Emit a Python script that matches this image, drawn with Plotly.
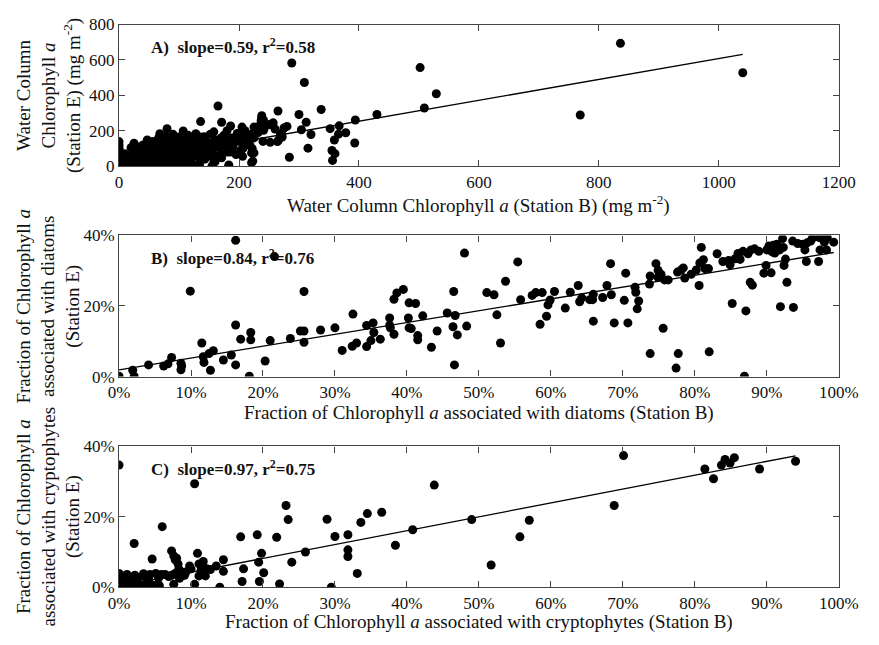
import plotly.graph_objects as go

# ---------------- Panel A: water-column chlorophyll a (mg m^-2) ----------------
a_x = [0, 0, 0, 0, 0, 0, 0, 0, 0, 0, 3, 2,
       5, 8, 10, 12, 14, 15, 18, 20, 22, 24, 25, 25, 27, 28, 30, 30,
       32, 33, 35, 36, 38, 40, 40, 42, 44, 45, 46, 47, 48, 50, 50, 52, 53, 55, 56, 58, 58, 60, 60,
       62, 63, 64, 65, 66, 68, 68, 70, 70, 72, 73, 74, 75, 76, 78, 78, 80, 80, 82, 83, 85, 85, 87,
       88, 90, 90, 92, 93, 95, 95, 97, 98, 100, 100,
       102, 103, 104, 105, 107, 108, 109, 110, 112, 113, 115, 116, 117, 118, 120, 122, 122, 124,
       125, 126, 128, 130, 130, 132, 134, 134, 136, 136, 138, 140, 142, 143, 145, 147, 148, 150,
       152, 155, 155, 156, 158, 158,
       160, 162, 165, 166, 166, 168, 170, 171, 171, 172, 175, 176, 178, 180, 183, 183, 183, 185,
       186, 188, 189, 190, 195, 197, 200, 200, 203, 205, 206, 207, 209, 210, 212, 215, 218, 219,
       221, 221, 222, 223, 225, 225, 225, 225,
       232, 235, 237, 238, 238, 240, 241, 241, 245, 249, 252, 254, 257, 260, 264, 265, 266, 269,
       271, 272, 275, 280, 284, 288, 300, 304, 309, 312, 315, 320, 337, 352, 355, 356, 359, 360,
       366, 367, 378, 393, 394, 430,
       502, 509, 529, 769, 836, 1040,
       15, 35, 55, 75, 95, 115, 135, 20, 45, 65, 85, 105, 125, 145, 165, 185, 205,
       30, 60, 90, 120, 150, 180, 210, 10, 40, 70, 100, 130, 160, 190]
a_y = [0, 10, 25, 47, 62, 75, 90, 102, 120, 139, 5, 30,
       0, 12, 3, 20, 35, 0, 10, 50, 28, 5, 70, 130, 45, 15, 90, 0,
       60, 30, 110, 8, 75, 45, 120, 20, 95, 0, 60, 148, 130, 35, 85, 10, 110, 55, 140, 25, 75, 0, 100,
       45, 125, 15, 80, 160, 184, 35, 100, 0, 60, 140, 20, 115, 85, 40, 170, 212, 5, 130, 70, 155, 25, 95,
       50, 180, 10, 120, 75, 145, 35, 100, 0, 60, 165,
       130, 20, 0, 85, 199, 45, 7, 150, 110, 60, 175, 35, 7, 130, 90, 160, 50, 7,
       115, 70, 184, 0, 140, 95, 7, 55, 252, 165, 120, 80, 166, 40, 140, 100, 60, 102,
       180, 2, 130, 75, 194, 35,
       150, 110, 340, 120, 60, 56, 160, 248, 48, 90, 175, 130, 100, 200, 142, 7, 0, 80,
       227, 160, 124, 110, 66, 185, 166, 140, 90, 221, 56, 102, 166, 200, 130, 150, 120, 179,
       75, 20, 100, 29, 221, 160, 166, 75,
       190, 230, 258, 276, 285, 140, 203, 258, 230, 234, 135, 239, 245, 210, 139, 312, 148, 184,
       184, 165, 216, 225, 51, 583, 292, 206, 473, 248, 102, 179, 320, 212, 89, 33, 148, 71,
       181, 228, 189, 131, 261, 292,
       557, 329, 409, 289, 694, 528,
       60, 85, 30, 125, 85, 100, 30, 105, 5, 55, 135, 115, 155, 120, 140, 120, 185,
       40, 45, 40, 45, 80, 80, 150, 70, 15, 150, 25, 170, 25, 150]

# ---------------- Panel B: fraction associated with diatoms (%) ----------------
b_x = [0, 1.9, 2.1, 4.1, 6.2, 6.8, 7.3, 8.6, 8.6, 8.7, 9.9, 11.5, 11.7, 11.8, 12.5, 12.7, 13.1,
       14.5, 15.6, 16.2, 16.2, 16.2, 16.9, 18.3, 18.3, 18.1, 20.3, 21.0, 21.6, 23.8, 25.2, 25.7,
       25.7, 25.7, 28.0, 30.0, 31.0, 32.4, 33.0, 32.5, 34.4, 34.4, 35.3, 35.4, 35.0, 36.3, 37.6,
       37.6, 37.7, 38.2, 38.2, 38.6, 39.5, 40.3, 41.2, 40.2, 40.3, 40.6, 41.5, 41.5, 42.2, 43.4,
       44.2, 45.6, 46.4, 46.7, 47.0, 46.5, 46.6, 48.0, 48.3, 51.1, 52.1, 52.5, 53.0, 53.7, 55.4,
       55.8, 57.4, 57.9, 58.8, 58.5, 59.4, 59.6, 59.9, 60.5, 62.0, 62.7, 63.8, 64.0, 64.3, 65.4,
       65.8, 65.9, 65.9, 67.2, 67.8, 68.3, 68.4, 68.8, 70.2, 70.4, 70.7, 71.7, 71.8, 72.2, 72.0,
       73.8, 73.7, 73.8, 74.6, 74.9, 75.3, 75.8, 74.9, 75.6, 76.3, 77.4, 77.7, 77.6, 78.1, 78.4,
       78.6, 79.5, 80.2, 80.6, 80.7, 81.2, 81.4, 80.9, 82.0, 81.9, 83.1, 83.9, 84.7, 84.9, 85.2,
       85.6, 86.3, 86.0, 86.7, 87.4, 87.8, 88.3, 88.9, 86.9, 87.1, 87.7, 88.0, 89.6, 90.6, 89.9,
       90.0, 90.3, 90.9, 91.4, 90.7, 91.8, 91.1, 91.9, 92.2, 92.4, 92.6, 92.3, 92.8, 93.6, 94.3,
       95.0, 95.6, 96.1, 93.7, 95.3, 95.5, 96.3, 97.3, 98.0, 98.4, 99.3, 97.2, 97.4, 98.3]
b_y = [0.1, 1.8, 0, 3.3, 3.0, 3.6, 5.4, 3.8, 1.9, 3.0, 24.2, 9.5, 5.6, 4.0, 6.5, 1.8, 7.3,
       4.7, 6.1, 3.3, 14.6, 38.6, 10.6, 12.5, 10.4, 0.1, 4.4, 10.2, 34.0, 10.8, 12.9, 12.9,
       9.7, 24.1, 13.2, 13.8, 7.4, 8.6, 9.5, 17.7, 8.5, 14.5, 15.2, 12.5, 10.2, 10.6, 16.6,
       14.5, 13.8, 12.0, 21.9, 23.7, 24.7, 20.9, 20.7, 16.6, 13.8, 13.6, 11.6, 10.4, 17.2, 8.3,
       12.9, 18.0, 14.1, 17.3, 11.8, 24.1, 3.3, 35.0, 14.3, 23.8, 23.2, 17.5, 9.5, 27.0, 32.5,
       21.8, 23.0, 23.8, 23.8, 14.8, 17.1, 20.3, 21.7, 24.1, 19.4, 23.9, 25.8, 21.2, 22.3, 21.8,
       21.8, 23.3, 15.7, 22.4, 25.8, 32.0, 23.2, 15.2, 21.6, 29.3, 15.2, 25.3, 23.9, 21.4, 19.2,
       28.5, 26.2, 6.5, 32.0, 30.1, 29.0, 27.4, 28.1, 13.7, 27.4, 2.4, 6.5, 29.6, 30.2, 30.8,
       27.9, 29.0, 30.2, 25.8, 32.2, 33.1, 30.6, 36.6, 7.0, 30.6, 34.8, 32.6, 32.9, 31.7, 20.7,
       33.4, 33.2, 34.9, 35.5, 34.8, 35.9, 36.2, 35.5, 0.1, 18.6, 26.7, 25.9, 29.3, 29.4, 31.5,
       35.9, 37.0, 37.2, 37.5, 35.4, 35.9, 35.0, 19.8, 39.1, 31.5, 33.3, 36.6, 26.7, 38.4, 37.7,
       37.5, 37.9, 38.4, 19.6, 35.9, 32.6, 39.1, 39.4, 38.1, 39.4, 38.1, 32.6, 35.9, 35.9]

# ---------------- Panel C: fraction associated with cryptophytes (%) ----------------
c_x = [0, 10.5, 6.0, 2.1, 4.6,
       0, 1.1, 2.2, 3.4, 4.3, 5.1, 5.9, 6.4,
       0.2, 0.6, 1.3, 2.0, 2.6, 3.3, 4.0, 4.6, 5.3, 5.6,
       0, 0.7, 1.5, 2.7, 3.7, 4.1, 5.5, 6.9, 0.1, 0.4, 1.0, 1.8,
       7.3, 7.6, 7.8, 8.0, 8.2, 8.3, 8.5, 8.4, 7.3, 7.6, 7.8, 8.7, 9.1, 9.8, 8.9, 9.3, 10.0,
       10.5, 10.9, 11.1, 11.4, 11.7, 11.7, 11.1, 12.0, 11.8, 12.2, 12.7, 13.5, 14.0,
       14.5, 14.5, 16.9, 17.3, 17.1, 19.2, 19.4, 19.5, 19.8, 20.1, 21.9, 22.3, 23.2, 23.5,
       24.0, 25.9, 28.9, 29.5, 30.0, 31.8, 31.8, 31.8, 33.1, 33.6, 34.5, 36.5, 38.4, 40.8,
       43.8, 49.0, 51.7, 55.7, 57.0, 68.8, 70.1, 81.4, 82.6, 83.7, 84.2, 84.9, 85.5, 89.0, 94.0]
c_y = [34.7, 29.4, 17.2, 12.4, 8.0,
       3.9, 3.6, 3.4, 3.8, 3.6, 3.9, 3.6, 3.6,
       1.6, 0.5, 1.1, 0.6, 1.1, 0.6, 1.1, 0.6, 0.8, 0.4,
       2.5, 2.9, 2.2, 2.7, 2.9, 2.2, 2.6, 3.0, 0.2, 1.8, 0.3, 1.4,
       10.3, 8.9, 7.8, 8.2, 6.6, 5.2, 3.4, 2.5, 3.4, 0.8, 3.9, 4.3, 3.4, 6.0, 3.4, 4.3, 5.2,
       0.8, 9.6, 6.6, 4.8, 7.3, 5.4, 3.2, 3.2, 4.3, 5.2, 5.0, 6.0, 0,
       7.8, 4.5, 14.3, 5.2, 1.6, 14.9, 7.1, 1.6, 9.6, 4.1, 14.2, 0.9, 23.2, 19.2,
       7.1, 10.0, 19.3, 0, 14.4, 14.9, 10.6, 8.7, 3.9, 18.4, 20.9, 21.3, 11.9, 16.3,
       29.0, 19.2, 6.3, 14.3, 19.0, 23.2, 37.4, 33.6, 30.8, 34.7, 36.3, 35.3, 36.8, 33.6, 35.8]

# Regression lines: (intercept, slope) in each panel's plotted units
fit_a = (18.0, 0.59)
fit_b = (1.9, 0.335)
fit_c = (0.3, 0.394)

labels = ["A)  slope=0.59, r<sup>2</sup>=0.58",
          "B)  slope=0.84, r<sup>2</sup>=0.76",
          "C)  slope=0.97, r<sup>2</sup>=0.75"]

pct_ticks = [0, 10, 20, 30, 40, 50, 60, 70, 80, 90, 100]
pct_text = [f"{v}%" for v in pct_ticks]

W, H = 879, 645
FONT = "Liberation Serif"

def px_x(p):
    return p / W

def px_y(p):
    return 1 - p / H

# plot-area pixel boxes (left, right, top, bottom)
boxes = [(112, 858, 16, 162), (112, 858, 233.3, 378.7), (112, 858, 450.7, 595.7)]

fig = go.Figure()
panels = [(a_x, a_y, fit_a), (b_x, b_y, fit_b), (c_x, c_y, fit_c)]
for i, (xs, ys, (b0, b1)) in enumerate(panels):
    sfx = "" if i == 0 else str(i + 1)
    fig.add_trace(go.Scatter(x=xs, y=ys, mode="markers",
                             marker=dict(color="black", size=9, line=dict(width=0)),
                             xaxis="x" + sfx, yaxis="y" + sfx, showlegend=False))
    x0, x1 = min(xs), max(xs)
    fig.add_trace(go.Scatter(x=[x0, x1], y=[b0 + b1 * x0, b0 + b1 * x1], mode="lines",
                             line=dict(color="black", width=1.3),
                             xaxis="x" + sfx, yaxis="y" + sfx, showlegend=False))

axis_common = dict(showline=True, linecolor="#444", linewidth=1.2, mirror="ticks",
                   ticks="inside", ticklen=6, tickcolor="#444", showgrid=False,
                   zeroline=False, tickfont=dict(family=FONT, size=17, color="#111"))

layout = dict(width=W, height=H, margin=dict(l=0, r=0, t=0, b=0),
              paper_bgcolor="white", plot_bgcolor="white",
              font=dict(family=FONT, size=17, color="#111"))

for i, (l, r, t, b) in enumerate(boxes):
    sfx = "" if i == 0 else str(i + 1)
    xdom = [px_x(l), px_x(r)]
    ydom = [px_y(b), px_y(t)]
    if i == 0:
        xa = dict(range=[0, 1200], tickvals=[0, 200, 400, 600, 800, 1000, 1200])
        ya = dict(range=[0, 800], tickvals=[0, 200, 400, 600, 800])
    else:
        xa = dict(range=[0, 100], tickvals=pct_ticks, ticktext=pct_text)
        ya = dict(range=[0, 40], tickvals=[0, 20, 40], ticktext=["0%", "20%", "40%"])
    layout["xaxis" + sfx] = dict(domain=xdom, anchor="y" + sfx, **xa, **axis_common)
    layout["yaxis" + sfx] = dict(domain=ydom, anchor="x" + sfx, **ya, **axis_common)

fig.update_layout(**layout)

title_font = dict(family=FONT, size=19, color="#111")
x_titles = ["Water Column Chlorophyll <i>a</i> (Station B) (mg m<sup>-2</sup>)",
            "Fraction of Chlorophyll <i>a</i> associated with diatoms (Station B)",
            "Fraction of Chlorophyll <i>a</i> associated with cryptophytes (Station B)"]
y_titles = ["Water Column<br>Chlorophyll <i>a</i><br>(Station E) (mg m<sup>-2</sup>)",
            "Fraction of Chlorophyll <i>a</i><br>associated with diatoms<br>(Station E)",
            "Fraction of Chlorophyll <i>a</i><br>associated with cryptophytes<br>(Station E)"]
x_title_y = [201, 416, 632]

for i, (l, r, t, b) in enumerate(boxes):
    fig.add_annotation(text=x_titles[i], xref="paper", yref="paper",
                       x=px_x((l + r) / 2), y=px_y(x_title_y[i]), xanchor="center",
                       yanchor="middle", showarrow=False, font=title_font)
    fig.add_annotation(text=y_titles[i], xref="paper", yref="paper", textangle=-90,
                       x=px_x(39), y=px_y((t + b) / 2), xanchor="center", yanchor="middle",
                       showarrow=False, font=title_font)
    fig.add_annotation(text="<b>" + labels[i] + "</b>", xref="paper", yref="paper",
                       x=px_x(l + 31), y=px_y(t + 22), xanchor="left", yanchor="middle",
                       showarrow=False, font=dict(family=FONT, size=17, color="#111"))

fig.write_html("out.html")
